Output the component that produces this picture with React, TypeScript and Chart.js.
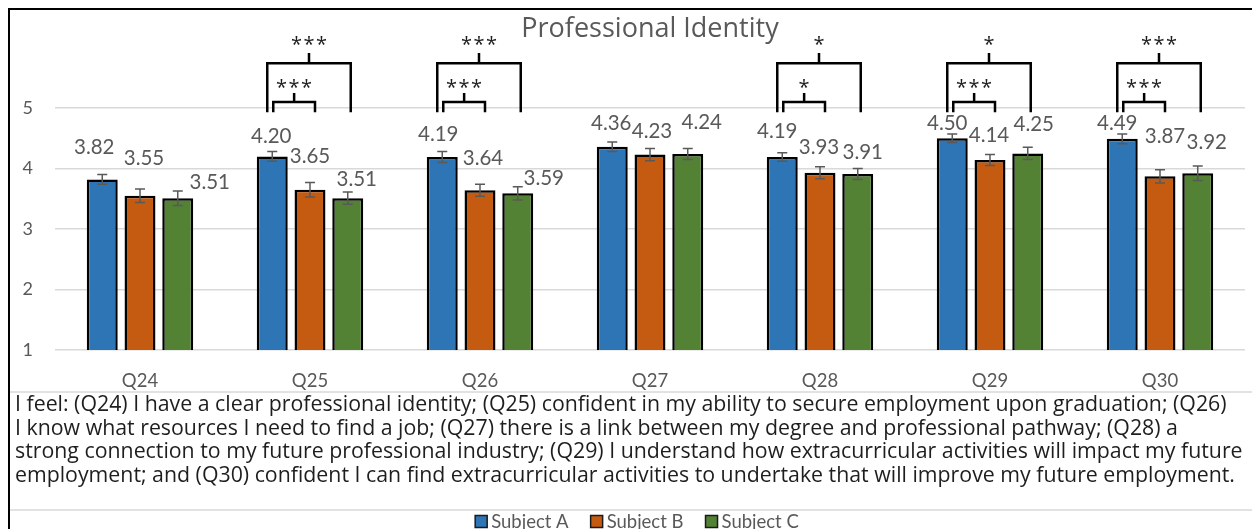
import React, { useEffect, useRef } from "react";
import { Chart, registerables } from "chart.js";

Chart.register(...registerables);

// ---------- data ----------
const categories = ["Q24", "Q25", "Q26", "Q27", "Q28", "Q29", "Q30"];
const seriesNames = ["Subject A", "Subject B", "Subject C"];
const subjectA = [3.82, 4.2, 4.19, 4.36, 4.19, 4.5, 4.49];
const subjectB = [3.55, 3.65, 3.64, 4.23, 3.93, 4.14, 3.87];
const subjectC = [3.51, 3.51, 3.59, 4.24, 3.91, 4.25, 3.92];
const errorA = [0.08, 0.08, 0.09, 0.08, 0.07, 0.07, 0.08];
const errorB = [0.11, 0.12, 0.1, 0.1, 0.1, 0.09, 0.11];
const errorC = [0.12, 0.1, 0.11, 0.09, 0.09, 0.1, 0.12];
const sigAB = ["", "***", "***", "", "*", "***", "***"];
const sigAC = ["", "***", "***", "", "*", "*", "***"];
const yTickValues = [1, 2, 3, 4, 5];
const chartTitle = "Professional Identity";
const noteLines = [
  "I feel: (Q24) I have a clear professional identity; (Q25) confident in my ability to secure employment upon graduation; (Q26)",
  "I know what resources I need to find a job; (Q27) there is a link between my degree and professional pathway; (Q28) a",
  "strong connection to my future professional industry; (Q29) I understand how extracurricular activities will impact my future",
  "employment; and (Q30) confident I can find extracurricular activities to undertake that will improve my future employment.",
];

// ---------- styles ----------
const COLORS = ["#2E75B6", "#C55A11", "#548235"];
const GRAY = "#595959";
const FONT = "Lato, 'Open Sans', sans-serif";
const NOTE_FONT = "'Open Sans', Lato, sans-serif";
// value-label placement (pixel offsets from bar centre / bar top), as in the reference
const LABEL_OFFSETS = [
  [[-8, -32], [-1, -20], [-4, -23], [-1, -24], [-5, -26], [-5, -15], [-5, -16]],
  [[4, -38], [0, -34], [3, -32], [2, -24], [-1, -26], [-1, -25], [5, -40]],
  [[32, -16], [9, -19], [26, -15], [14, -32], [5, -22], [6, -29], [9, -31]],
];

const values = [subjectA, subjectB, subjectC];
const errors = [errorA, errorB, errorC];

const overlayPlugin = {
  id: "overlay",
  afterDatasetsDraw(chart: any) {
    const ctx = chart.ctx;
    const ys = chart.scales.y;
    ctx.save();
    // error bars
    ctx.strokeStyle = GRAY;
    ctx.lineWidth = 1.5;
    for (let s = 0; s < 3; s++) {
      const meta = chart.getDatasetMeta(s);
      meta.data.forEach((el: any, j: number) => {
        const v = values[s][j];
        const e = errors[s][j];
        const x = el.x;
        const t = ys.getPixelForValue(v + e);
        const b = ys.getPixelForValue(v - e);
        ctx.beginPath();
        ctx.moveTo(x, t);
        ctx.lineTo(x, b);
        ctx.moveTo(x - 5, t);
        ctx.lineTo(x + 5, t);
        ctx.moveTo(x - 5, b);
        ctx.lineTo(x + 5, b);
        ctx.stroke();
      });
    }
    // value labels
    ctx.fillStyle = GRAY;
    ctx.font = `20.5px ${FONT}`;
    ctx.textAlign = "center";
    ctx.textBaseline = "alphabetic";
    for (let s = 0; s < 3; s++) {
      const meta = chart.getDatasetMeta(s);
      meta.data.forEach((el: any, j: number) => {
        const [dx, dy] = LABEL_OFFSETS[s][j];
        ctx.fillText(values[s][j].toFixed(2), el.x + dx, el.y + dy + 7);
      });
    }
    ctx.restore();
  },
  afterDraw(chart: any) {
    const ctx = chart.ctx;
    const ys = chart.scales.y;
    const W = chart.width;
    ctx.save();

    // significance brackets
    const mA = chart.getDatasetMeta(0).data;
    const mB = chart.getDatasetMeta(1).data;
    const mC = chart.getDatasetMeta(2).data;
    const drawStars = (txt: string, cx: number, cy: number) => {
      const size = 20;
      ctx.fillStyle = "#1e1e1e";
      ctx.font = `${size}px ${NOTE_FONT}`;
      ctx.textAlign = "center";
      ctx.textBaseline = "alphabetic";
      const n = txt.length;
      for (let k = 0; k < n; k++) {
        const x = cx + (k - (n - 1) / 2) * 12.5;
        ctx.fillText("*", x, cy + 0.445 * size);
      }
    };
    const bracket = (l: number, r: number, top: number, bot: number, tick: number) => {
      ctx.beginPath();
      ctx.moveTo(l, bot);
      ctx.lineTo(l, top);
      ctx.lineTo(r, top);
      ctx.lineTo(r, bot);
      ctx.moveTo((l + r) / 2, top);
      ctx.lineTo((l + r) / 2, tick);
      ctx.stroke();
    };
    ctx.strokeStyle = "#000";
    ctx.lineWidth = 2.5;
    ctx.lineCap = "butt";
    ctx.lineJoin = "miter";
    const yBot = ys.getPixelForValue(4.93);
    for (let j = 0; j < categories.length; j++) {
      if (sigAC[j]) {
        const l = mA[j].x - 5;
        const r = mC[j].x + 3;
        bracket(l, r, ys.getPixelForValue(5.74), yBot, ys.getPixelForValue(5.91));
        drawStars(sigAC[j], (l + r) / 2, ys.getPixelForValue(6.09));
      }
      if (sigAB[j]) {
        const l = mA[j].x + 1;
        const r = mB[j].x + 5;
        bracket(l, r, ys.getPixelForValue(5.1), yBot, ys.getPixelForValue(5.25));
        drawStars(sigAB[j], (l + r) / 2, ys.getPixelForValue(5.38));
      }
    }

    // separator lines
    ctx.strokeStyle = "#d9d9d9";
    ctx.lineWidth = 1.5;
    ctx.beginPath();
    ctx.moveTo(9, 392);
    ctx.lineTo(W, 392);
    ctx.moveTo(9, 510);
    ctx.lineTo(W, 510);
    ctx.stroke();

    // description text, sized so the first line spans the text box as in the reference
    ctx.fillStyle = "#1e1e1e";
    ctx.textAlign = "left";
    ctx.textBaseline = "alphabetic";
    ctx.font = `20px ${NOTE_FONT}`;
    const w0 = ctx.measureText(noteLines[0]).width;
    const size = Math.min(22, (20 * 1212) / w0);
    ctx.font = `${size}px ${NOTE_FONT}`;
    noteLines.forEach((line, i) => {
      ctx.fillText(line, 15, 411 + i * 23.5, 1234);
    });

    // legend
    ctx.font = `18.5px ${FONT}`;
    ctx.textBaseline = "alphabetic";
    const box = 12;
    const gapBox = 4;
    const gapItem = 22;
    const widths = seriesNames.map((n) => box + gapBox + ctx.measureText(n).width);
    const total = widths.reduce((a, b) => a + b, 0) + gapItem * (widths.length - 1);
    let x = 637 - total / 2;
    seriesNames.forEach((n, i) => {
      ctx.fillStyle = COLORS[i];
      ctx.fillRect(x, 515.5, box, box);
      ctx.strokeStyle = "#1a1a1a";
      ctx.lineWidth = 1.5;
      ctx.strokeRect(x, 515.5, box, box);
      ctx.fillStyle = GRAY;
      ctx.fillText(n, x + box + gapBox, 527.5);
      x += widths[i] + gapItem;
    });

    // outer border
    ctx.strokeStyle = "#000";
    ctx.lineWidth = 2;
    ctx.beginPath();
    ctx.moveTo(9, chart.height);
    ctx.lineTo(9, 9);
    ctx.lineTo(W, 9);
    ctx.stroke();

    ctx.restore();
  },
};

export default function App() {
  const ref = useRef<HTMLCanvasElement | null>(null);
  useEffect(() => {
    if (!ref.current) return;
    const chart = new Chart(ref.current, {
      type: "bar",
      data: {
        labels: categories,
        datasets: seriesNames.map((name, i) => ({
          label: name,
          data: values[i],
          backgroundColor: COLORS[i],
          borderColor: "#000",
          borderWidth: 2.5,
          borderSkipped: false,
          categoryPercentage: 0.666,
          barPercentage: 0.82,
        })),
      },
      options: {
        responsive: false,
        animation: false,
        events: [],
        layout: { padding: { left: 0, right: 7, top: 0, bottom: 0 } },
        plugins: {
          legend: { display: false },
          tooltip: { enabled: false },
          title: {
            display: true,
            text: chartTitle,
            fullSize: false,
            color: GRAY,
            font: { family: NOTE_FONT, size: 27, weight: "normal" },
            padding: { top: 13, bottom: 62.6 },
          },
        },
        scales: {
          x: {
            grid: { display: false, drawTicks: false },
            border: { display: false },
            ticks: { color: GRAY, font: { family: FONT, size: 18.5 }, padding: 20 },
            afterFit: (s: any) => {
              s.height = 179;
            },
          },
          y: {
            min: yTickValues[0],
            max: yTickValues[yTickValues.length - 1],
            afterBuildTicks: (s: any) => {
              s.ticks = yTickValues.map((v) => ({ value: v }));
            },
            grid: { color: "#d9d9d9", lineWidth: 1.5, drawTicks: false },
            border: { display: false },
            ticks: { color: GRAY, font: { family: FONT, size: 18 }, padding: 22 },
            afterFit: (s: any) => {
              s.width = 55;
            },
          },
        },
      },
      plugins: [overlayPlugin],
    });
    return () => chart.destroy();
  }, []);
  return (
    <div
      style={{
        position: "fixed",
        left: 0,
        top: 0,
        width: 1252,
        height: 529,
        background: "#fff",
      }}
    >
      <canvas ref={ref} width={1252} height={529} style={{ display: "block", width: 1252, height: 529 }} />
    </div>
  );
}
